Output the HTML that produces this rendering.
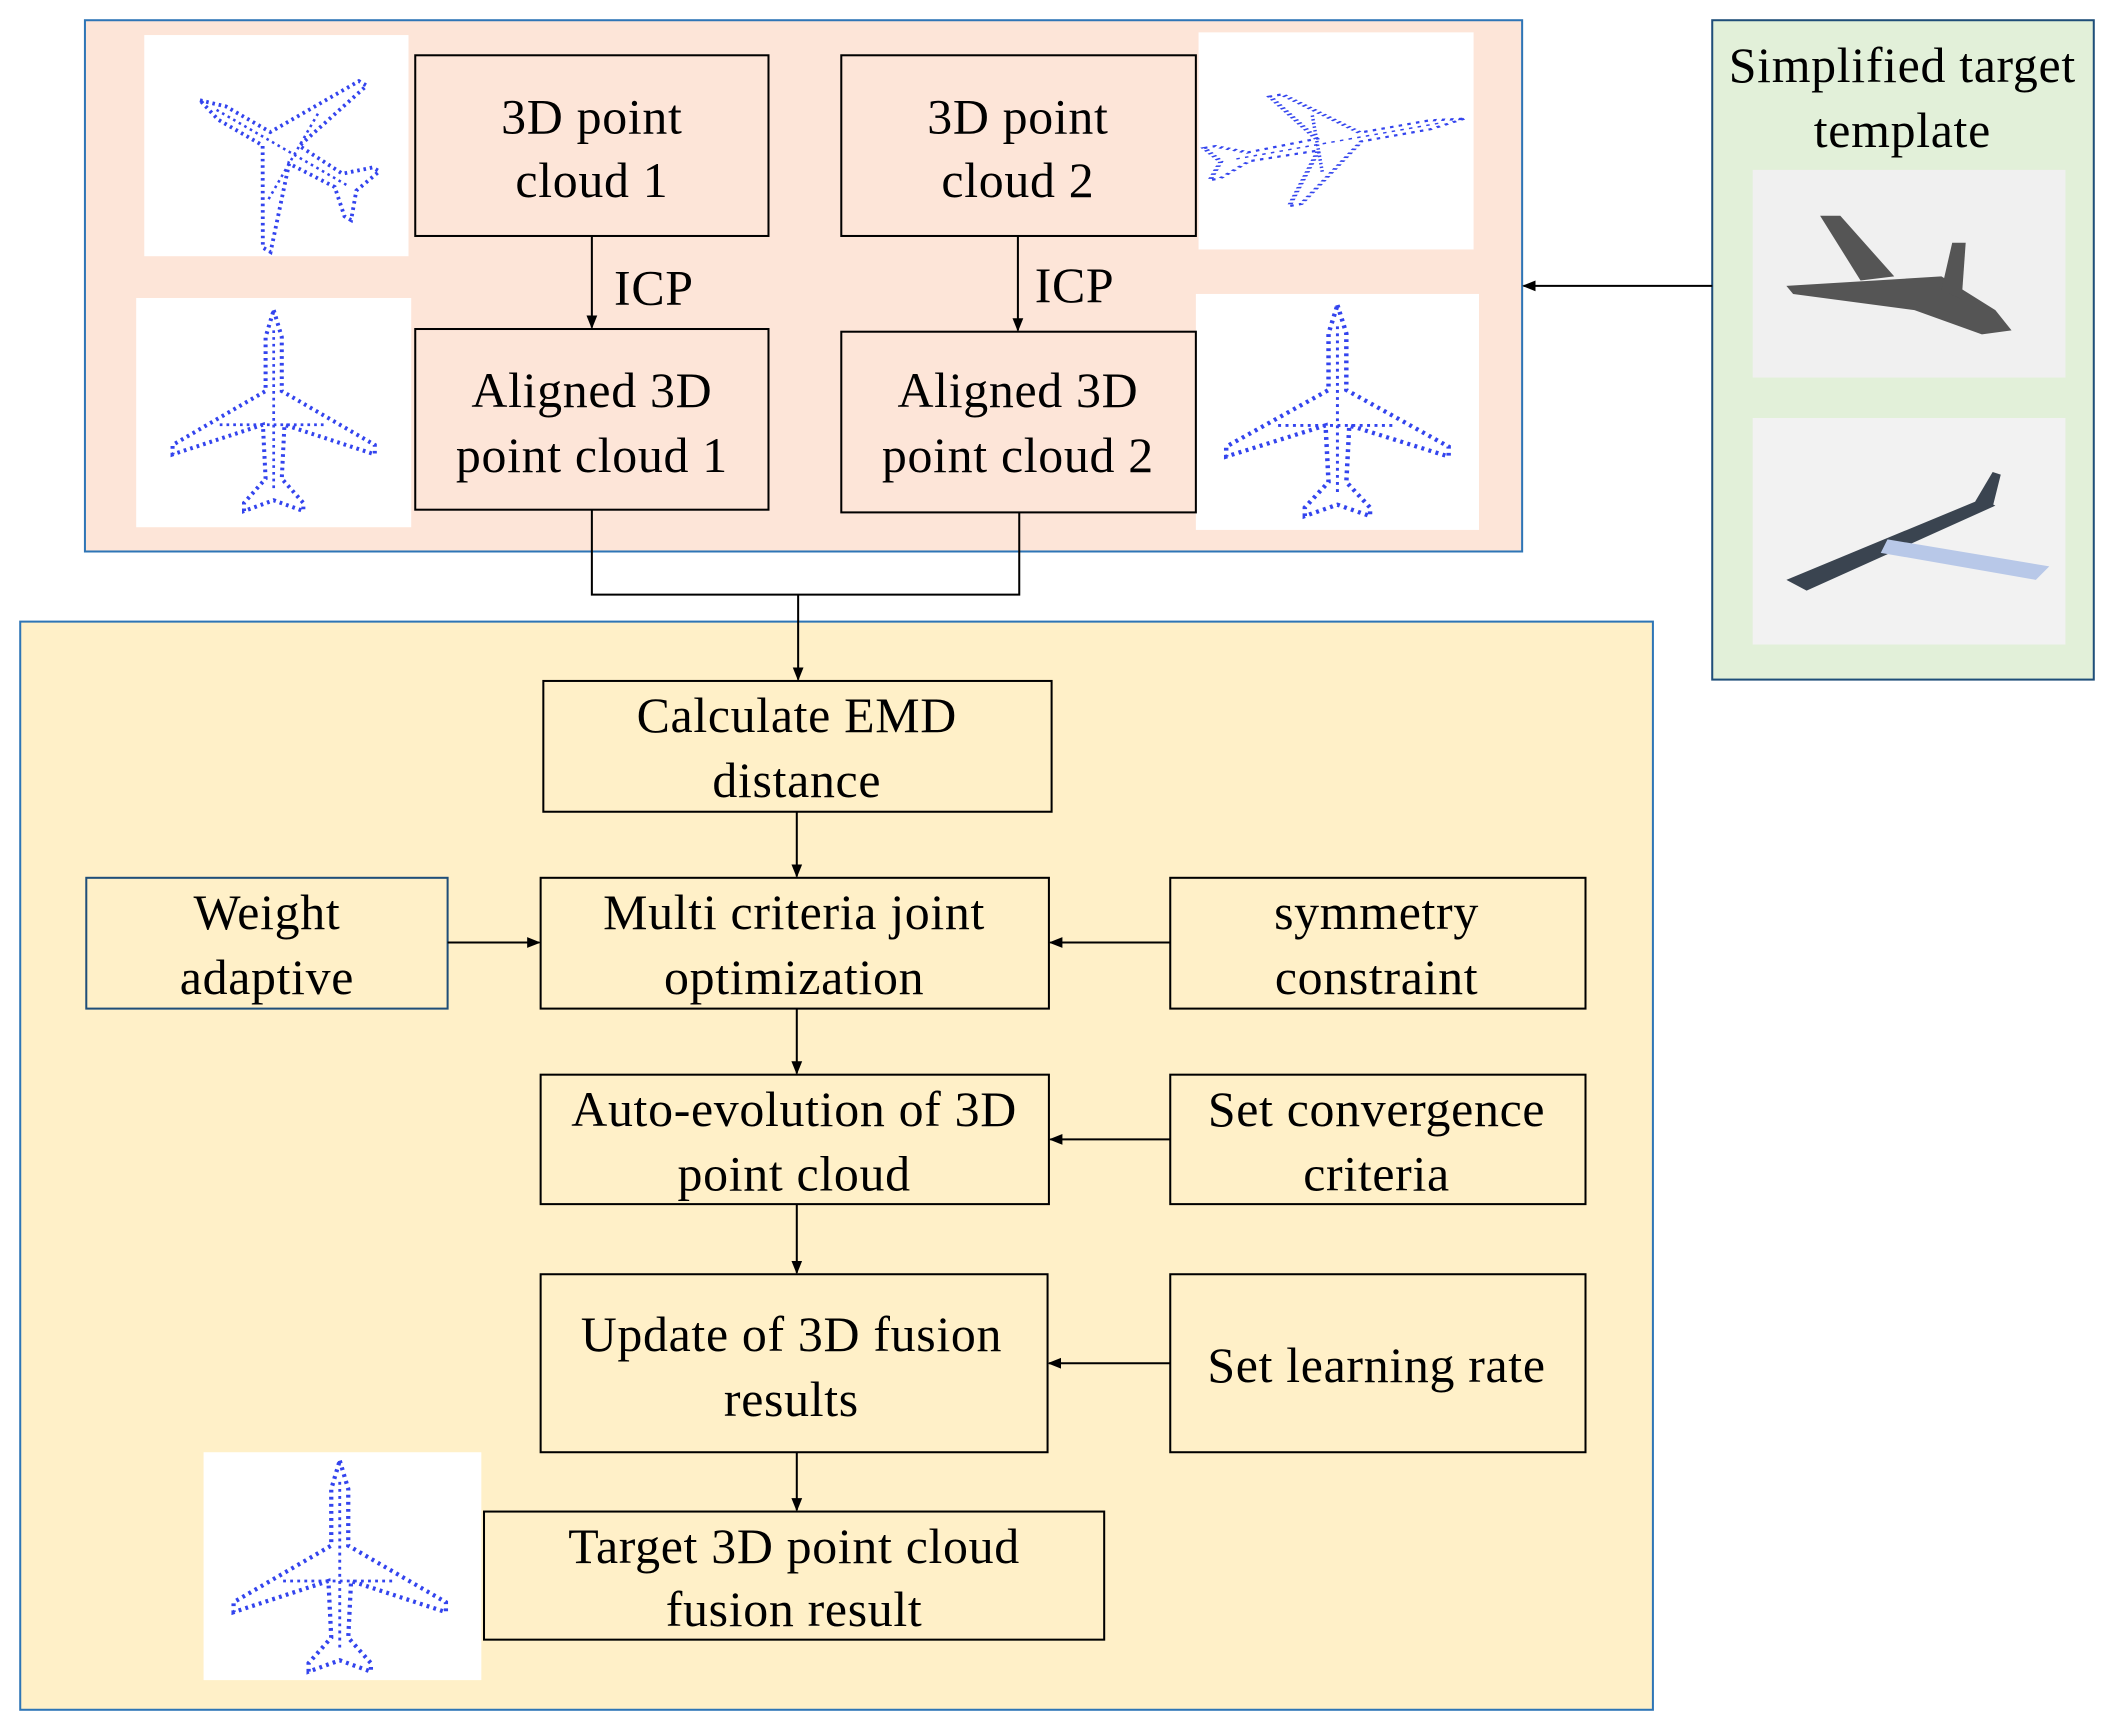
<!DOCTYPE html>
<html><head><meta charset="utf-8"><style>
html,body{margin:0;padding:0;background:#fff}
svg{display:block}
text{font-family:"Liberation Serif",serif;font-size:37px;letter-spacing:0.5px;fill:#000;text-anchor:middle}
</style></head><body>
<svg width="2114" height="1730" viewBox="0 0 1568 1283" preserveAspectRatio="none" xmlns="http://www.w3.org/2000/svg">
<defs>
<marker id="a" markerWidth="10" markerHeight="10" refX="9" refY="5" orient="auto" markerUnits="userSpaceOnUse"><path d="M0,1 L10,5 L0,9 z" fill="#000"/></marker>
<g id="plane" fill="none" stroke="#3344ee" stroke-width="3" stroke-dasharray="2 3">
<path d="M0,-75 L6,-55 L6,-15 L75,25 L75,32 L8,10 L6,50 L22,68 L22,74 L0,66 L-22,74 L-22,68 L-6,50 L-8,10 L-75,32 L-75,25 L-6,-15 L-6,-55 Z"/>
<path d="M0,-60 L0,60 M-40,10 L40,10" stroke-width="2"/>
</g>
</defs>
<rect x="63" y="15" width="1066" height="394" fill="#fde5d8" stroke="#2e75b6" stroke-width="1.5"/>
<rect x="1270" y="15" width="283" height="489" fill="#e2f0d9" stroke="#1f4e79" stroke-width="1.5"/>
<rect x="15" y="461" width="1211" height="807" fill="#fff0c8" stroke="#2e75b6" stroke-width="1.5"/>

<rect x="107" y="26" width="196" height="164" fill="#fff"/>
<rect x="101" y="221" width="204" height="170" fill="#fff"/>
<rect x="889" y="24" width="204" height="161" fill="#fff"/>
<rect x="887" y="218" width="210" height="175" fill="#fff"/>
<rect x="151" y="1077" width="206" height="169" fill="#fff"/>
<rect x="1300" y="126" width="232" height="154" fill="#f0f0f0"/>
<rect x="1300" y="310" width="232" height="168" fill="#f2f2f2"/>

<use href="#plane" transform="translate(210,110) rotate(-60) scale(0.95)"/>
<use href="#plane" transform="translate(203,305)"/>
<use href="#plane" transform="translate(990,105) rotate(80) scale(0.55,1.3)"/>
<use href="#plane" transform="translate(992,305) scale(1.1,1.05)"/>
<use href="#plane" transform="translate(252,1162) scale(1.05,1.05)"/>
<g fill="#555"><path d="M1325,212 L1440,205 L1480,230 L1492,245 L1470,248 L1420,230 L1330,218 Z"/><path d="M1380,208 L1350,160 L1365,160 L1405,205 Z"/><path d="M1440,215 L1448,180 L1458,180 L1455,222 Z"/></g>
<g fill="#3a4450"><path d="M1325,430 L1470,370 L1480,375 L1340,438 Z"/><path d="M1465,372 L1478,350 L1484,352 L1478,376 Z"/></g>
<path d="M1400,400 L1520,420 L1510,430 L1395,410 Z" fill="#b8c8e8"/>

<g fill="#fde5d8" stroke="#000" stroke-width="1.5">
<rect x="308" y="41" width="262" height="134"/>
<rect x="624" y="41" width="263" height="134"/>
<rect x="308" y="244" width="262" height="134"/>
<rect x="624" y="246" width="263" height="134"/>
</g>
<g fill="#fff0c8" stroke="#000" stroke-width="1.5">
<rect x="403" y="505" width="377" height="97"/>
<rect x="64" y="651" width="268" height="97" stroke="#1f4e79"/>
<rect x="401" y="651" width="377" height="97"/>
<rect x="868" y="651" width="308" height="97"/>
<rect x="401" y="797" width="377" height="96"/>
<rect x="868" y="797" width="308" height="96"/>
<rect x="401" y="945" width="376" height="132"/>
<rect x="868" y="945" width="308" height="132"/>
<rect x="359" y="1121" width="460" height="95"/>
</g>

<g stroke="#000" stroke-width="1.5" fill="none">
<line x1="439" y1="175" x2="439" y2="243" marker-end="url(#a)"/>
<line x1="755" y1="175" x2="755" y2="245" marker-end="url(#a)"/>
<polyline points="439,378 439,441 756,441 756,380"/>
<line x1="592" y1="441" x2="592" y2="504" marker-end="url(#a)"/>
<line x1="591" y1="602" x2="591" y2="650" marker-end="url(#a)"/>
<line x1="332" y1="699" x2="400" y2="699" marker-end="url(#a)"/>
<line x1="868" y1="699" x2="779" y2="699" marker-end="url(#a)"/>
<line x1="591" y1="748" x2="591" y2="796" marker-end="url(#a)"/>
<line x1="868" y1="845" x2="779" y2="845" marker-end="url(#a)"/>
<line x1="591" y1="893" x2="591" y2="944" marker-end="url(#a)"/>
<line x1="868" y1="1011" x2="778" y2="1011" marker-end="url(#a)"/>
<line x1="591" y1="1077" x2="591" y2="1120" marker-end="url(#a)"/>
<line x1="1270" y1="212" x2="1130" y2="212" marker-end="url(#a)"/>
</g>

<text x="439" y="99">3D point</text><text x="439" y="146">cloud 1</text>
<text x="755" y="99">3D point</text><text x="755" y="146">cloud 2</text>
<text x="485" y="226">ICP</text><text x="797" y="224">ICP</text>
<text x="439" y="302">Aligned 3D</text><text x="439" y="350">point cloud 1</text>
<text x="755" y="302">Aligned 3D</text><text x="755" y="350">point cloud 2</text>
<text x="1411" y="61">Simplified target</text><text x="1411" y="109">template</text>
<text x="591" y="543">Calculate EMD</text><text x="591" y="591">distance</text>
<text x="198" y="689">Weight</text><text x="198" y="737">adaptive</text>
<text x="589" y="689">Multi criteria joint</text><text x="589" y="737">optimization</text>
<text x="1021" y="689">symmetry</text><text x="1021" y="737">constraint</text>
<text x="589" y="835">Auto-evolution of 3D</text><text x="589" y="883">point cloud</text>
<text x="1021" y="835">Set convergence</text><text x="1021" y="883">criteria</text>
<text x="587" y="1002">Update of 3D fusion</text><text x="587" y="1050">results</text>
<text x="1021" y="1025">Set learning rate</text>
<text x="589" y="1159">Target 3D point cloud</text><text x="589" y="1206">fusion result</text>
</svg>
</body></html>
